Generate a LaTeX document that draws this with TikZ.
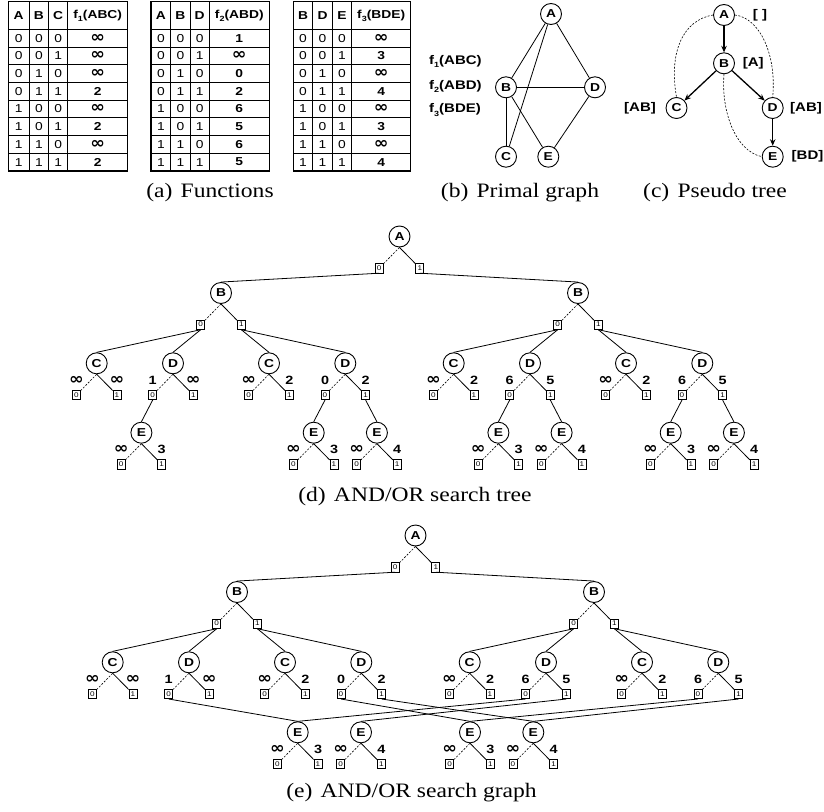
\documentclass[tikz,border=0pt]{standalone}
\usepackage{fontspec}
\usepackage{graphicx}
\setmainfont{Liberation Serif}[FakeStretch=1.15]
\setsansfont{Liberation Sans}[FakeStretch=1.2]
\newfontfamily\symfnt{DejaVu Sans}
\usetikzlibrary{arrows.meta}

\newcommand\infy{{\symfnt\bfseries\fontsize{11}{11}\selectfont\scalebox{1.6}[1.45]{∞}}}
\newcommand\mysub[1]{\raisebox{-0.28em}{\fontsize{7.5}{7.5}\selectfont #1}}

\tikzset{
  orn/.style={circle,draw,line width=0.9pt,minimum size=21pt,inner sep=0pt,
    font=\sffamily\bfseries\fontsize{11.5}{11.5}\selectfont},
  andn/.style={draw,line width=0.7pt,minimum width=8pt,minimum height=9.5pt,inner sep=0pt,
    font=\sffamily\fontsize{6.8}{6.8}\selectfont},
  lab/.style={inner sep=0pt,anchor=base,font=\sffamily\bfseries\fontsize{12}{12}\selectfont},
  plab/.style={inner sep=0pt,font=\sffamily\bfseries\fontsize{12.5}{12.5}\selectfont},
  arc/.style={line width=0.8pt},
  darc/.style={line width=0.6pt,dash pattern=on 2pt off 1.5pt},
  tthick/.style={line width=1.4pt},
  tthin/.style={line width=0.7pt},
  thead/.style={inner sep=0pt,font=\sffamily\bfseries\fontsize{11.5}{11.5}\selectfont},
  tcell/.style={inner sep=0pt,font=\sffamily\fontsize{11.5}{11.5}\selectfont},
  tval/.style={inner sep=0pt,font=\sffamily\bfseries\fontsize{11.5}{11.5}\selectfont},
  capt/.style={inner sep=0pt,anchor=base,font=\rmfamily\fontsize{20.5}{24}\selectfont},
  ptree/.style={line width=1.3pt,-{Stealth[length=6.5pt,width=5.5pt]}},
}

% OR node with its two AND children
\newcommand\ORN[4]{%
  \node[orn] (#1) at (#2,#3) {#4};
  \node[andn] (#1-0) at ([shift={(-20.3,31.6)}]#1.center) {0};
  \node[andn] (#1-1) at ([shift={(20.3,31.6)}]#1.center) {1};
  \draw[darc] (#1.south) -- (#1-0);
  \draw[arc] (#1.south) -- (#1-1);
}
% labels above AND children
\newcommand\LBL[3]{%
  \node[lab] (#1-l0) at ([shift={(-20.3,20.8)}]#1.center) {#2};
  \node[lab] (#1-l1) at ([shift={(20.3,20.8)}]#1.center) {#3};
}
\newcommand\KID[2]{\draw[arc] (#1.south) -- (#2.north);}

% tables
\newcommand\TAB[6]{%
  \def\Tn{#1}\def\Xa{#2}\def\Xb{#3}\def\Xc{#4}\def\Xd{#5}\def\Xe{#6}%
  \draw[tthin] (#3,1.7) -- (#3,171);
  \draw[tthin] (#4,1.7) -- (#4,171);
  \foreach \i in {1,...,7}{\draw[tthin] (#2,{29.3+17.7*\i}) -- (#6,{29.3+17.7*\i});}
  \draw[tthick] (#2,1.7) rectangle (#6,171);
  \draw[tthick] (#2,29.3) -- (#6,29.3);
  \draw[tthick] (#5,1.7) -- (#5,171);
  \foreach \i in {0,...,7}{%
    \pgfmathtruncatemacro\ba{\i/4}%
    \pgfmathtruncatemacro\bb{mod(\i,4)/2}%
    \pgfmathtruncatemacro\bc{mod(\i,2)}%
    \node[tcell] (#1-\i-a) at ({(#2+#3)/2},{38.15+17.7*\i}) {\ba};
    \node[tcell] (#1-\i-b) at ({(#3+#4)/2},{38.15+17.7*\i}) {\bb};
    \node[tcell] (#1-\i-c) at ({(#4+#5)/2},{38.15+17.7*\i}) {\bc};
  }
}
\newcommand\THEAD[4]{%
  \node[thead] (\Tn-ha) at ({(\Xa+\Xb)/2},15.5) {#1};
  \node[thead] (\Tn-hb) at ({(\Xb+\Xc)/2},15.5) {#2};
  \node[thead] (\Tn-hc) at ({(\Xc+\Xd)/2},15.5) {#3};
  \node[thead] (\Tn-hf) at ({(\Xd+\Xe)/2},15.5) {#4};
}
\newcommand\TVAL[8]{%
  \node[tval] (\Tn-v0) at ({(\Xd+\Xe)/2},38.15) {#1};
  \node[tval] (\Tn-v1) at ({(\Xd+\Xe)/2},55.85) {#2};
  \node[tval] (\Tn-v2) at ({(\Xd+\Xe)/2},73.55) {#3};
  \node[tval] (\Tn-v3) at ({(\Xd+\Xe)/2},91.25) {#4};
  \node[tval] (\Tn-v4) at ({(\Xd+\Xe)/2},108.95) {#5};
  \node[tval] (\Tn-v5) at ({(\Xd+\Xe)/2},126.65) {#6};
  \node[tval] (\Tn-v6) at ({(\Xd+\Xe)/2},144.35) {#7};
  \node[tval] (\Tn-v7) at ({(\Xd+\Xe)/2},162.05) {#8};
}

\begin{document}
\begin{tikzpicture}[x=1pt,y=-1pt]
\useasboundingbox (0,0) rectangle (824,811);

% ---------------- (a) tables
\TAB{ta}{8.3}{29}{48.7}{67.7}{127.7}
\THEAD{A}{B}{C}{f\mysub{1}(ABC)}
\TVAL{\infy}{\infy}{\infy}{2}{\infy}{2}{\infy}{2}
\TAB{tb}{151}{170.7}{190}{209.3}{269.3}
\THEAD{A}{B}{D}{f\mysub{2}(ABD)}
\TVAL{1}{\infy}{0}{2}{6}{5}{6}{5}
\TAB{tc}{293.3}{312.7}{332.3}{351.7}{410.7}
\THEAD{B}{D}{E}{f\mysub{3}(BDE)}
\TVAL{\infy}{3}{\infy}{4}{\infy}{3}{\infy}{4}

% ---------------- (b) primal graph
\node[orn] (gA) at (551,14) {A};
\node[orn] (gB) at (506,87.3) {B};
\node[orn] (gD) at (595,87.3) {D};
\node[orn] (gC) at (506,156.7) {C};
\node[orn] (gE) at (548.3,156.7) {E};
\draw[arc] (gA) -- (gB);
\draw[arc] (gA) -- (gD);
\draw[arc] (gA) -- (gC);
\draw[arc] (gB) -- (gD);
\draw[arc] (gB) -- (gC);
\draw[arc] (gB) -- (gE);
\draw[arc] (gD) -- (gE);
\node[plab,anchor=west] (gf1) at (429,61.7) {f\mysub{1}(ABC)};
\node[plab,anchor=west] (gf2) at (429,86.7) {f\mysub{2}(ABD)};
\node[plab,anchor=west] (gf3) at (429,110) {f\mysub{3}(BDE)};

% ---------------- (c) pseudo tree
\node[orn] (pA) at (724,15) {A};
\node[orn] (pB) at (724,63.3) {B};
\node[orn] (pC) at (676.5,108) {C};
\node[orn] (pD) at (772.7,108) {D};
\node[orn] (pE) at (772.7,156.7) {E};
\draw[ptree] (pA) -- (pB);
\draw[ptree] (pB) -- (pC);
\draw[ptree] (pB) -- (pD);
\draw[ptree] (pD) -- (pE);
\draw[darc] (pA.west) .. controls +(-30,5) and +(-8,-45) .. (pC.north);
\draw[darc] (pA.east) .. controls +(25,3) and +(4,-42) .. (pD.north);
\draw[darc] (pB.south) .. controls +(-3,36) and +(-27,-6) .. (pE.west);
\node[plab] (pl0) at (760,15) {[ ]};
\node[plab] (pl1) at (753.3,63.3) {[A]};
\node[plab] (pl2) at (640,108) {[AB]};
\node[plab] (pl3) at (806,108) {[AB]};
\node[plab] (pl4) at (807.5,156.7) {[BD]};

% ---------------- (d) AND/OR search tree
\ORN{dA}{399.5}{236.5}{A}
\ORN{dBa}{221}{293}{B} \KID{dA-0}{dBa}
\ORN{dBb}{578}{293}{B} \KID{dA-1}{dBb}
\ORN{dCaa}{96.7}{363.3}{C}  \KID{dBa-0}{dCaa} \LBL{dCaa}{\infy}{\infy}
\ORN{dDaa}{173}{363.3}{D}   \KID{dBa-0}{dDaa} \LBL{dDaa}{1}{\infy}
\ORN{dCab}{269}{363.3}{C}   \KID{dBa-1}{dCab} \LBL{dCab}{\infy}{2}
\ORN{dDab}{345.3}{363.3}{D} \KID{dBa-1}{dDab} \LBL{dDab}{0}{2}
\ORN{dCba}{453.7}{363.3}{C} \KID{dBb-0}{dCba} \LBL{dCba}{\infy}{2}
\ORN{dDba}{530}{363.3}{D}   \KID{dBb-0}{dDba} \LBL{dDba}{6}{5}
\ORN{dCbb}{626}{363.3}{C}   \KID{dBb-1}{dCbb} \LBL{dCbb}{\infy}{2}
\ORN{dDbb}{702.3}{363.3}{D} \KID{dBb-1}{dDbb} \LBL{dDbb}{6}{5}
\ORN{dEaa}{141.4}{432.7}{E} \KID{dDaa-0}{dEaa} \LBL{dEaa}{\infy}{3}
\ORN{dEab}{313.7}{432.7}{E} \KID{dDab-0}{dEab} \LBL{dEab}{\infy}{3}
\ORN{dEac}{376.9}{432.7}{E} \KID{dDab-1}{dEac} \LBL{dEac}{\infy}{4}
\ORN{dEba}{498.4}{432.7}{E} \KID{dDba-0}{dEba} \LBL{dEba}{\infy}{3}
\ORN{dEbb}{561.6}{432.7}{E} \KID{dDba-1}{dEbb} \LBL{dEbb}{\infy}{4}
\ORN{dEbc}{670.7}{432.7}{E} \KID{dDbb-0}{dEbc} \LBL{dEbc}{\infy}{3}
\ORN{dEbd}{733.9}{432.7}{E} \KID{dDbb-1}{dEbd} \LBL{dEbd}{\infy}{4}

% ---------------- (e) AND/OR search graph
\ORN{eA}{415.5}{535.5}{A}
\ORN{eBa}{237}{592}{B} \KID{eA-0}{eBa}
\ORN{eBb}{594}{592}{B} \KID{eA-1}{eBb}
\ORN{eCaa}{112.7}{662.3}{C} \KID{eBa-0}{eCaa} \LBL{eCaa}{\infy}{\infy}
\ORN{eDaa}{189}{662.3}{D}   \KID{eBa-0}{eDaa} \LBL{eDaa}{1}{\infy}
\ORN{eCab}{285}{662.3}{C}   \KID{eBa-1}{eCab} \LBL{eCab}{\infy}{2}
\ORN{eDab}{361.3}{662.3}{D} \KID{eBa-1}{eDab} \LBL{eDab}{0}{2}
\ORN{eCba}{469.7}{662.3}{C} \KID{eBb-0}{eCba} \LBL{eCba}{\infy}{2}
\ORN{eDba}{546}{662.3}{D}   \KID{eBb-0}{eDba} \LBL{eDba}{6}{5}
\ORN{eCbb}{642}{662.3}{C}   \KID{eBb-1}{eCbb} \LBL{eCbb}{\infy}{2}
\ORN{eDbb}{718.3}{662.3}{D} \KID{eBb-1}{eDbb} \LBL{eDbb}{6}{5}
\ORN{eE1}{297.7}{732.3}{E} \LBL{eE1}{\infy}{3}
\ORN{eE2}{361}{732.3}{E}   \LBL{eE2}{\infy}{4}
\ORN{eE3}{470}{732.3}{E}   \LBL{eE3}{\infy}{3}
\ORN{eE4}{533.3}{732.3}{E} \LBL{eE4}{\infy}{4}
\KID{eDaa-0}{eE1}
\KID{eDab-0}{eE3}
\KID{eDab-1}{eE4}
\KID{eDba-0}{eE1}
\KID{eDba-1}{eE2}
\KID{eDbb-0}{eE3}
\KID{eDbb-1}{eE4}

% ---------------- captions
\node[capt] (capa) at (210,197) {(a)\hspace{0.4em}Functions};
\node[capt] (capb) at (520,197) {(b)\hspace{0.4em}Primal graph};
\node[capt] (capc) at (715,197) {(c)\hspace{0.4em}Pseudo tree};
\node[capt] (capd) at (415,501) {(d)\hspace{0.4em}AND/OR search tree};
\node[capt] (cape) at (411.5,797) {(e)\hspace{0.4em}AND/OR search graph};
\end{tikzpicture}
\end{document}
